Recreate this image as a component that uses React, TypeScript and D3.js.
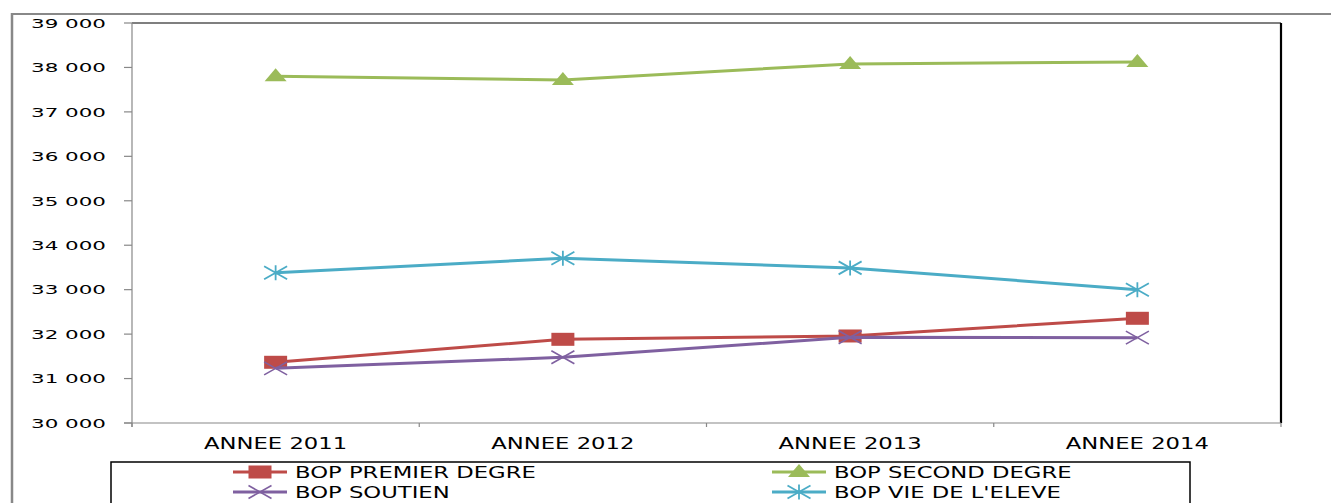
import React from "react";
import * as d3 from "d3";

const categories = ["ANNEE 2011", "ANNEE 2012", "ANNEE 2013", "ANNEE 2014"];
const premierDegre = [31366, 31883, 31958, 32356];
const secondDegre = [37800, 37720, 38080, 38120];
const soutien = [31230, 31478, 31928, 31920];
const vieEleve = [33380, 33705, 33490, 33000];
const yTicks = [30000, 31000, 32000, 33000, 34000, 35000, 36000, 37000, 38000, 39000];

type Marker = "square" | "triangle" | "x" | "star";
const series: { name: string; values: number[]; color: string; marker: Marker }[] = [
  { name: "BOP PREMIER DEGRE", values: premierDegre, color: "#BE4B48", marker: "square" },
  { name: "BOP SECOND DEGRE", values: secondDegre, color: "#9BBB59", marker: "triangle" },
  { name: "BOP SOUTIEN", values: soutien, color: "#7F60A0", marker: "x" },
  { name: "BOP VIE DE L'ELEVE", values: vieEleve, color: "#4BACC6", marker: "star" },
];

const L = 132, R = 1281, T = 23, B = 423;
const FONT = "DejaVu Sans, Verdana, sans-serif";

function MarkerShape({ type, x, y, color }: { type: Marker; x: number; y: number; color: string }) {
  const w = 11.5, h = 6.5;
  if (type === "square") return <rect x={x - w} y={y - h} width={w * 2} height={h * 2} fill={color} />;
  if (type === "triangle")
    return <path d={`M${x},${y - 8} L${x + 11},${y + 5} L${x - 11},${y + 5} Z`} fill={color} />;
  if (type === "x")
    return (
      <path d={`M${x - w},${y - h} L${x + w},${y + h} M${x - w},${y + h} L${x + w},${y - h}`} stroke={color} strokeWidth={1.6} fill="none" />
    );
  return (
    <path
      d={`M${x - w},${y - h} L${x + w},${y + h} M${x - w},${y + h} L${x + w},${y - h} M${x},${y - h - 1} L${x},${y + h + 1}`}
      stroke={color}
      strokeWidth={1.8}
      fill="none"
    />
  );
}

export default function App() {
  const x = d3.scaleBand<string>().domain(categories).range([L, R]).paddingInner(0).paddingOuter(0);
  const cx = (c: string) => (x(c) as number) + x.bandwidth() / 2;
  const y = d3.scaleLinear().domain([30000, 39000]).range([B, T]);
  const fmt = (v: number) => d3.format(",")(v).replace(",", " ");
  const line = d3
    .line<number>()
    .x((_, i) => cx(categories[i]))
    .y((v) => y(v));

  const legendPos = [
    { lx: 233, ty: 472 },
    { lx: 772, ty: 472 },
    { lx: 233, ty: 492 },
    { lx: 772, ty: 492 },
  ];

  return (
    <svg width={1331} height={503} style={{ position: "absolute", left: 0, top: 0, background: "#fff" }}>
      <rect x={0} y={0} width={1331} height={503} fill="#fff" />
      {/* outer frame */}
      <line x1={11} y1={14} x2={1331} y2={14} stroke="#888" strokeWidth={2} />
      <line x1={12} y1={13} x2={12} y2={503} stroke="#888" strokeWidth={2.5} />
      {/* plot border top/right */}
      <line x1={L} y1={T} x2={R} y2={T} stroke="#000" strokeWidth={1.2} />
      <line x1={R} y1={T} x2={R} y2={B} stroke="#000" strokeWidth={2.2} />
      {/* y axis */}
      <line x1={L} y1={T} x2={L} y2={B + 4} stroke="#888" strokeWidth={1.2} />
      {yTicks.map((t) => (
        <g key={t}>
          <line x1={L - 8} x2={L} y1={y(t)} y2={y(t)} stroke="#888" strokeWidth={1.2} />
          <text
            transform={`translate(106,${y(t) + 4.8}) scale(1.65,1)`}
            textAnchor="end"
            fontFamily={FONT}
            fontSize={13}
            fill="#000"
          >
            {fmt(t)}
          </text>
        </g>
      ))}
      {/* x axis */}
      <line x1={L - 8} x2={R} y1={B} y2={B} stroke="#888" strokeWidth={1.2} />
      {[...categories.map((c) => x(c) as number), R].map((v, i) => (
        <line key={i} x1={v} x2={v} y1={B} y2={B + 4} stroke="#888" strokeWidth={1.2} />
      ))}
      {categories.map((c) => (
        <text
          key={c}
          transform={`translate(${cx(c)},449) scale(1.42,1)`}
          textAnchor="middle"
          fontFamily={FONT}
          fontSize={16}
          fill="#000"
        >
          {c}
        </text>
      ))}
      {/* series */}
      {series.map((s) => (
        <g key={s.name}>
          <path d={line(s.values) || ""} fill="none" stroke={s.color} strokeWidth={3} strokeLinejoin="round" />
          {s.values.map((v, i) => (
            <MarkerShape key={i} type={s.marker} x={cx(categories[i])} y={y(v)} color={s.color} />
          ))}
        </g>
      ))}
      {/* legend */}
      <rect x={111} y={462} width={1079} height={60} fill="#fff" stroke="#000" strokeWidth={1.5} />
      {series.map((s, i) => {
        const p = legendPos[i];
        return (
          <g key={s.name}>
            <line x1={p.lx} x2={p.lx + 54} y1={p.ty} y2={p.ty} stroke={s.color} strokeWidth={3} />
            <MarkerShape type={s.marker} x={p.lx + 27} y={p.ty} color={s.color} />
            <text
              transform={`translate(${p.lx + 62},${p.ty + 6}) scale(1.42,1)`}
              fontFamily={FONT}
              fontSize={16}
              fill="#000"
            >
              {s.name}
            </text>
          </g>
        );
      })}
    </svg>
  );
}
